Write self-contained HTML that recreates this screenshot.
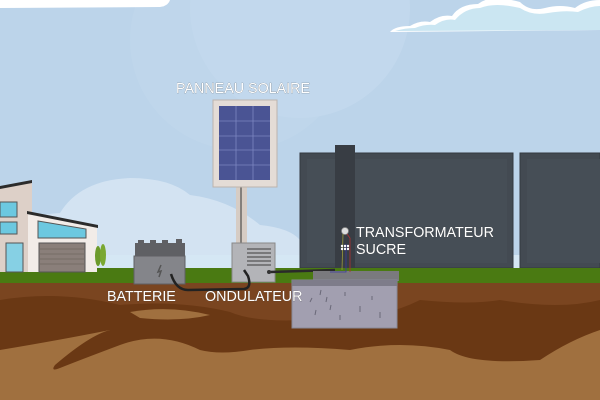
<!DOCTYPE html>
<html><head><meta charset="utf-8"><style>
html,body{margin:0;padding:0;width:600px;height:400px;overflow:hidden;background:#bcd4ea}
svg{display:block}
text{font-family:"Liberation Sans",sans-serif;fill:#fff;font-size:14.3px;stroke:#3a3a3a;stroke-width:0.3;paint-order:stroke}
</style></head><body>
<svg width="600" height="400" viewBox="0 0 600 400">
<rect width="600" height="400" fill="#bcd4ea"/>
<circle cx="300" cy="8" r="110" fill="#c6dbee" opacity="0.6"/>
<circle cx="240" cy="40" r="110" fill="#c3d9ee" opacity="0.4"/>
<path d="M390 32 Q395 26 410 26 Q420 20 430 22 Q440 14 452 16 Q460 4 478 4 Q490 -6 520 2 Q530 12 545 8 Q560 4 575 8 Q585 0 600 0 L600 30 Z" fill="#fff"/>
<path d="M395 31 Q405 28 415 28 Q425 24 435 25 Q445 18 455 20 Q465 8 480 8 Q495 2 520 8 Q532 16 548 13 Q565 10 578 12 Q590 6 600 6 L600 30 Z" fill="#cbe6f2"/>
<path d="M0 0 L170 0 Q168 6 160 7 L0 8 Z" fill="#fff"/>
<path d="M0 240 Q20 215 60 213 Q80 180 130 178 Q170 178 190 195 Q230 200 260 225 Q290 228 300 240 L300 270 L0 270 Z" fill="#d3e3f2"/>
<rect x="0" y="255" width="600" height="15" fill="#d5e7f4"/>
<rect x="300" y="153" width="213" height="115" fill="#434a52" stroke="#333940" stroke-width="1"/>
<rect x="307" y="159" width="200" height="104" fill="#464e56"/>
<rect x="520" y="153" width="80" height="115" fill="#434a52" stroke="#333940" stroke-width="1"/>
<rect x="527" y="159" width="73" height="104" fill="#464e56"/>
<rect x="335" y="145" width="20" height="128" fill="#383d44"/>
<rect x="0" y="268" width="600" height="16" fill="#4a7a12"/>
<rect x="0" y="283" width="600" height="117" fill="#a0703f"/>
<path d="M0 283 L600 283 L600 325 Q560 340 510 330 Q470 345 450 345 Q430 340 400 330 Q340 345 300 345 Q240 350 210 340 Q160 330 130 325 Q90 335 0 345 Z" fill="#7a4520"/>
<path d="M0 300 Q60 290 120 305 Q180 300 230 312 Q260 325 330 318 Q380 320 420 300 Q470 305 500 300 Q560 310 600 300 L600 330 Q570 340 540 360 Q470 365 450 350 Q400 340 350 350 Q290 345 250 350 Q220 355 200 350 Q160 330 120 345 Q80 360 60 368 Q50 372 55 365 Q90 335 110 330 Q60 340 0 350 Z" fill="#6a3814"/>
<path d="M130 312 Q170 305 210 315 Q180 322 140 318 Z" fill="#a0703f"/>
<polygon points="0,188 32,181 32,272 0,272" fill="#ddd0c8"/>
<polygon points="0,186 32,180 32,183 0,189" fill="#2b2b2b"/>
<polygon points="28,213 97,227 97,272 28,272" fill="#f2ece8"/>
<polygon points="27,211 98,225 98,228 27,214" fill="#2b2b2b"/>
<rect x="0" y="202" width="17" height="15" fill="#6cc8e0" stroke="#555" stroke-width="1"/>
<rect x="0" y="222" width="17" height="12" fill="#6cc8e0" stroke="#555" stroke-width="1"/>
<rect x="6" y="243" width="17" height="29" fill="#86d0e4" stroke="#555" stroke-width="1"/>
<polygon points="38,221 86,229 86,238 38,238" fill="#6cc8e0" stroke="#555" stroke-width="1"/>
<rect x="39" y="243" width="46" height="29" fill="#8a7f7a" stroke="#555" stroke-width="1"/>
<g stroke="#766c66" stroke-width="1"><line x1="40" y1="249" x2="84" y2="249"/><line x1="40" y1="254" x2="84" y2="254"/><line x1="40" y1="259" x2="84" y2="259"/><line x1="40" y1="264" x2="84" y2="264"/></g>
<ellipse cx="98" cy="256" rx="3" ry="10" fill="#6c9a2a"/>
<ellipse cx="103" cy="255" rx="3" ry="11" fill="#7aa832"/>
<rect x="135" y="243" width="50" height="14" fill="#5f6064"/>
<rect x="138" y="240" width="6" height="6" fill="#5f6064"/><rect x="150" y="240" width="6" height="6" fill="#5f6064"/><rect x="162" y="240" width="6" height="6" fill="#5f6064"/><rect x="176" y="239" width="6" height="6" fill="#5f6064"/>
<rect x="134" y="256" width="51" height="28" fill="#84858a" stroke="#5f6064" stroke-width="1"/>
<path d="M161 265 L158 272 L161 271 L159 277" stroke="#555" stroke-width="1.5" fill="none"/>
<rect x="236" y="186" width="11" height="60" fill="#d6ccc4"/>
<line x1="241" y1="186" x2="241" y2="246" stroke="#333" stroke-width="1"/>
<rect x="213" y="100" width="64" height="87" fill="#e4dcd6" stroke="#bcb3ad" stroke-width="1"/>
<rect x="219" y="106" width="51" height="74" fill="#4a5494"/>
<g stroke="#7c86c0" stroke-width="0.8"><line x1="236" y1="106" x2="236" y2="180"/><line x1="253" y1="106" x2="253" y2="180"/>
<line x1="219" y1="121" x2="270" y2="121"/><line x1="219" y1="136" x2="270" y2="136"/><line x1="219" y1="150" x2="270" y2="150"/><line x1="219" y1="165" x2="270" y2="165"/></g>
<rect x="232" y="243" width="43" height="39" fill="#b3b4b8" stroke="#888" stroke-width="1"/>
<g stroke="#555" stroke-width="1.3"><line x1="247" y1="249" x2="271" y2="249"/><line x1="247" y1="253" x2="271" y2="253"/><line x1="247" y1="257" x2="271" y2="257"/><line x1="247" y1="261" x2="271" y2="261"/><line x1="247" y1="265" x2="271" y2="265"/></g>
<path d="M171 274 Q176 290 188 290 L244 289 Q252 288 248 276 L244 270" stroke="#222" stroke-width="2.5" fill="none"/>
<path d="M270 272 L335 270" stroke="#2a2a2a" stroke-width="2.5"/>
<circle cx="269" cy="272" r="2" fill="#333"/>
<rect x="313" y="271" width="86" height="10" fill="#7a7a7e"/>
<rect x="292" y="280" width="105" height="48" fill="#a29fb0" stroke="#888a98" stroke-width="1"/>
<rect x="292" y="280" width="105" height="6" fill="#7e7c8a"/>
<g stroke="#6a6878" stroke-width="1"><line x1="310" y1="302" x2="312" y2="298"/><line x1="320" y1="295" x2="321" y2="290"/><line x1="330" y1="310" x2="331" y2="305"/><line x1="345" y1="296" x2="345" y2="292"/><line x1="360" y1="312" x2="360" y2="306"/><line x1="372" y1="300" x2="372" y2="296"/><line x1="315" y1="315" x2="316" y2="310"/><line x1="340" y1="320" x2="340" y2="315"/><line x1="380" y1="318" x2="380" y2="312"/><line x1="326" y1="302" x2="327" y2="297"/></g>
<circle cx="345" cy="231" r="3.5" fill="#ddd" stroke="#888" stroke-width="0.7"/>
<path d="M343 234 L342 270" stroke="#9a9a3a" stroke-width="0.8" fill="none"/>
<path d="M346 244 L346 272 L330 272" stroke="#3a3aa0" stroke-width="0.8" fill="none"/>
<path d="M347 234 L350 238 L350 272" stroke="#b03030" stroke-width="0.8" fill="none"/>
<g fill="#fff"><circle cx="342" cy="246" r="1.2"/><circle cx="345" cy="246" r="1.2"/><circle cx="348" cy="246" r="1.2"/><circle cx="342" cy="249" r="1.2"/><circle cx="345" cy="249" r="1.2"/><circle cx="348" cy="249" r="1.2"/></g>
<text x="176" y="93">PANNEAU SOLAIRE</text>
<text x="107" y="301">BATTERIE</text>
<text x="205" y="301">ONDULATEUR</text>
<text x="356" y="237">TRANSFORMATEUR</text>
<text x="356" y="254">SUCRE</text>
</svg>
</body></html>
